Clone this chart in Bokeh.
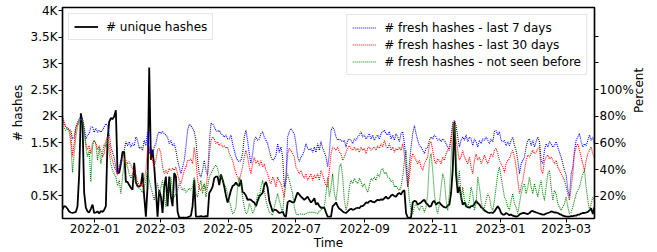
import math
import pandas as pd
from bokeh.plotting import figure
from bokeh.models import (Range1d, LinearAxis, FixedTicker, DatetimeTickFormatter,
                          Legend, LegendItem, ColumnDataSource)
from bokeh.embed import file_html
from bokeh.resources import INLINE

# ---------------- data ----------------
start_date = "2021-12-03"
n_points = 320
step = "36h"

unique_hashes = [
    240, 300, 290, 250, 200, 180, 170, 180, 190, 300,
    900, 2060, 1880, 550, 270, 200, 180, 250, 330, 170,
    180, 200, 160, 210, 190, 230, 300, 1560, 1900, 1970,
    1950, 2000, 2120, 930, 930, 1100, 1330, 1330, 760, 760,
    700, 650, 610, 1120, 750, 680, 670, 700, 930, 480,
    100, 670, 2930, 1180, 1370, 1050, 600, 100, 600, 480,
    170, 670, 860, 300, 860, 480, 300, 930, 860, 200,
    80, 80, 80, 80, 80, 90, 100, 120, 300, 800,
    100, 100, 100, 110, 100, 100, 110, 100, 550, 600,
    670, 830, 860, 860, 700, 900, 800, 670, 500, 370,
    480, 600, 680, 700, 750, 700, 680, 800, 560, 550,
    500, 420, 430, 420, 390, 370, 300, 400, 480, 520,
    550, 700, 760, 650, 400, 300, 200, 230, 230, 200,
    170, 180, 200, 120, 100, 370, 400, 390, 370, 380,
    480, 560, 520, 480, 450, 420, 450, 480, 420, 370,
    400, 450, 330, 360, 300, 270, 270, 270, 180, 100,
    100, 100, 300, 330, 370, 300, 250, 230, 200, 180,
    170, 200, 230, 250, 230, 240, 260, 270, 260, 300,
    300, 330, 370, 360, 390, 400, 380, 370, 400, 420,
    410, 430, 420, 450, 480, 440, 460, 500, 520, 490,
    480, 530, 550, 520, 580, 600, 170, 80, 80, 90,
    370, 400, 390, 330, 350, 370, 400, 420, 360, 330,
    290, 300, 380, 400, 330, 360, 370, 330, 300, 280,
    270, 310, 330, 550, 1000, 1900, 900, 550, 670, 480,
    330, 370, 300, 280, 270, 300, 300, 340, 400, 360,
    330, 280, 260, 220, 200, 180, 170, 180, 170, 200,
    250, 300, 250, 170, 140, 140, 170, 150, 130, 140,
    120, 110, 100, 110, 140, 160, 170, 170, 160, 150,
    170, 200, 210, 190, 180, 170, 160, 150, 140, 140,
    160, 170, 180, 200, 190, 180, 180, 170, 150, 140,
    120, 110, 100, 100, 100, 110, 110, 120, 120, 140,
    140, 160, 170, 170, 180, 190, 220, 260, 150, 280,
]

fresh_7d = [
    80, 75, 72, 71, 70, 69.5, 63, 64.5, 72, 75.5,
    78, 79.5, 78, 72, 63, 66, 67, 72, 72, 68,
    71, 68, 69.5, 68, 69.5, 72, 74.5, 73, 67, 57,
    53, 49, 42, 37, 42, 47, 49.5, 54.5, 61, 58,
    61, 57, 59.5, 58, 64.5, 62, 56, 57, 54.5, 62,
    58, 68.5, 52, 57, 51, 57, 59.5, 66, 68.5, 67,
    68.5, 67, 66, 64.5, 59.5, 62, 58, 59.5, 54.5, 47,
    42, 37, 42, 47, 57, 69.5, 74, 73, 71, 68.5,
    62, 47, 37, 34.5, 39.5, 47, 39.5, 36, 59.5, 74.5,
    74.5, 72, 69.5, 68.5, 69.5, 67, 66, 64.5, 66, 63,
    63, 66, 59.5, 54.5, 49.5, 47, 46, 47, 52, 64.5,
    69.5, 62, 52, 44.5, 52, 62, 64.5, 62, 63, 67,
    68.5, 64.5, 62, 59.5, 54.5, 49.5, 47, 48, 51, 59.5,
    53, 57, 49.5, 27, 34.5, 64.5, 68.5, 71, 68.5, 67,
    59.5, 49.5, 46, 49.5, 51, 54.5, 59.5, 56, 54.5, 56,
    53, 57, 53, 59.5, 54.5, 61, 56, 53, 49.5, 42,
    52, 69.5, 72, 69.5, 64.5, 62, 63, 62, 61, 62,
    57, 62, 63, 62, 59.5, 63, 62, 64.5, 66, 68.5,
    64.5, 66, 63, 64.5, 67, 63, 66, 62, 64.5, 66,
    63, 67, 68.5, 69.5, 67, 66, 68.5, 63, 66, 62,
    67, 64.5, 61, 67, 68.5, 59.5, 47, 27, 44.5, 57,
    67, 73, 67, 62, 58, 57, 54.5, 52, 56, 57,
    62, 64.5, 63, 66, 64.5, 62, 63, 61, 63, 62,
    59.5, 57, 54.5, 64.5, 74.5, 77, 73, 64.5, 57, 62,
    64.5, 62, 66, 61, 64.5, 63, 58, 63, 61, 57,
    62, 59.5, 63, 62, 64.5, 62, 59.5, 63, 61, 68.5,
    69.5, 66, 68.5, 62, 61, 62, 58, 61, 58, 62,
    64.5, 58, 54.5, 47, 37, 44.5, 47, 49.5, 57, 62,
    63, 58, 62, 57, 61, 64.5, 61, 47, 44.5, 54.5,
    59.5, 57, 61, 59.5, 57, 58, 61, 57, 53, 49.5,
    44.5, 39.5, 36, 25, 20, 37, 42, 54.5, 62, 64.5,
    67, 61, 57, 59.5, 58, 62, 66, 62, 64.5, 58,
]

fresh_30d = [
    80, 75, 72, 71, 70, 66, 50, 60, 70, 74,
    77, 78, 77, 70, 60, 55, 58, 52, 60, 62,
    60, 55, 58, 54.5, 49.5, 52, 62, 64.5, 59.5, 51,
    47, 42, 39.5, 36, 42, 44.5, 47, 48, 47, 44.5,
    46, 43.5, 41, 39.5, 36, 31, 28, 29.5, 27, 32,
    39.5, 56, 57, 49.5, 47, 42, 47, 54.5, 56, 52,
    42, 37, 39.5, 37, 41, 39.5, 41, 39.5, 42, 37,
    32, 29.5, 34.5, 39.5, 42, 47, 47, 48, 44.5, 57,
    47, 32, 26, 24.5, 27, 29.5, 24.5, 37, 49.5, 62,
    64.5, 63, 59.5, 61, 58, 59.5, 57, 58, 56, 57,
    52, 49.5, 47, 42, 37, 34.5, 32, 37, 42, 49.5,
    54.5, 49.5, 42, 37, 44.5, 49.5, 44.5, 47, 43, 47,
    42, 44.5, 39.5, 37, 32, 29.5, 34.5, 32, 27, 34.5,
    31, 29.5, 24.5, 19.5, 32, 52, 56, 54.5, 52, 49.5,
    42, 39.5, 37, 39.5, 36, 33.5, 37, 32, 34.5, 37,
    32, 36, 33.5, 37, 32, 39.5, 36, 32, 28, 27,
    39.5, 52, 57, 56, 54.5, 57, 53, 52, 47, 49.5,
    53, 56, 58, 56, 54.5, 57, 54.5, 56, 53, 57,
    54.5, 56, 52, 56, 57, 54.5, 56, 57, 54.5, 58,
    56, 59.5, 57, 62, 58, 56, 59.5, 54.5, 57, 53,
    56, 54.5, 57, 54.5, 59.5, 51, 39.5, 27, 34.5, 47,
    52, 49.5, 47, 44.5, 47, 42, 39.5, 44.5, 47, 49.5,
    59.5, 61, 54.5, 47, 44.5, 48, 47, 44.5, 49.5, 47,
    52, 54.5, 57, 62, 75.5, 74.5, 62, 54.5, 47, 49.5,
    54.5, 49.5, 47, 44.5, 49.5, 42, 37, 47, 52, 47,
    49.5, 44.5, 47, 51, 47, 44.5, 48, 52, 49.5, 54.5,
    56, 52, 47, 44.5, 42, 38, 44.5, 47, 48, 52,
    54.5, 49.5, 42, 32, 22, 27, 32, 39.5, 47, 51,
    49.5, 52, 54.5, 52, 53, 56, 57, 39.5, 37, 47,
    49.5, 51, 48, 49.5, 47, 44.5, 47, 42, 39.5, 37,
    34.5, 32, 27, 22, 17, 27, 37, 52, 57, 59.5,
    54.5, 49.5, 44.5, 39.5, 47, 52, 54.5, 57, 52, 49.5,
]

fresh_new = [
    80, 71, 69.5, 71, 68.5, 59.5, 38, 52, 64.5, 72,
    76, 78, 77, 69.5, 57, 49.5, 54.5, 31, 57, 62,
    59.5, 47, 57, 44.5, 52, 59.5, 57, 62, 52, 44.5,
    39.5, 37, 34.5, 28, 32, 22, 34.5, 47, 44.5, 42,
    37, 33.5, 37, 34.5, 29.5, 27, 26, 24.5, 23, 27,
    32, 39.5, 32, 27, 22, 17, 24.5, 29.5, 22, 27,
    32, 22, 12, 22, 27, 34.5, 24.5, 19.5, 22, 24.5,
    29.5, 27, 24.5, 26, 23, 24.5, 26, 24.5, 27, 34.5,
    22, 19.5, 27, 32, 22, 29.5, 19.5, 27, 34.5, 37,
    39.5, 42, 43.5, 41, 34.5, 36, 32, 29.5, 27, 22,
    17, 12, 7, 8, 12, 27, 34.5, 29.5, 19.5, 12,
    7, 8, 14.5, 12, 7, 9.5, 14.5, 22, 19.5, 27,
    32, 24.5, 17, 12, 8, 7, 6, 12, 17, 22,
    17, 12, 8, 22, 32, 37, 32, 27, 22, 12,
    7, 6, 6.5, 7, 6.5, 6.5, 7, 7.5, 8, 8,
    8, 8, 7.5, 7, 9, 9.5, 11, 12, 22, 34.5,
    19.5, 27, 37, 22, 17, 27, 42, 44.5, 34.5, 17,
    9.5, 14.5, 27, 32, 29.5, 33.5, 31, 29.5, 33.5, 31,
    27, 29.5, 26, 23, 28, 33.5, 32, 34.5, 32, 37,
    34.5, 39.5, 41, 37, 38, 34.5, 33.5, 31, 32, 27,
    28, 26, 24.5, 27, 34.5, 47, 54.5, 32, 17, 9.5,
    7, 12, 14.5, 12, 9.5, 13, 12, 8, 12, 22,
    47, 52, 39.5, 22, 12, 7, 14.5, 27, 37, 32,
    17, 9.5, 22, 47, 74.5, 72, 49.5, 27, 39.5, 17,
    27, 17, 14.5, 12, 17, 27, 22, 9.5, 14.5, 34.5,
    27, 17, 9.5, 12, 17, 22, 19.5, 12, 9.5, 17,
    27, 37, 42, 34.5, 27, 19.5, 17, 12, 9.5, 17,
    22, 14.5, 12, 7, 14.5, 22, 27, 29.5, 22, 27,
    34.5, 27, 22, 29.5, 24.5, 19.5, 27, 32, 22, 17,
    27, 37, 39.5, 27, 17, 24.5, 22, 14.5, 12, 9.5,
    12, 14.5, 19.5, 12, 7, 8, 12, 17, 22, 24.5,
    27, 32, 37, 39.5, 27, 17, 9.5, 14.5, 19.5, 17,
]

x_tick_labels = ["2022-01", "2022-03", "2022-05", "2022-07",
                 "2022-09", "2022-11", "2023-01", "2023-03"]
hash_ticks = [500, 1000, 1500, 2000, 2500, 3000, 3500, 4000]
hash_tick_labels = ["0.5K", "1K", "1.5K", "2K", "2.5K", "3K", "3.5K", "4K"]
pct_ticks = [20, 40, 60, 80, 100, 120, 140]
pct_tick_labels = ["20%", "40%", "60%", "80%", "100%", "", ""]

x_title = "Time"
y_title = "# hashes"
y2_title = "Percent"
legend_left = ["# unique hashes"]
legend_right = ["# fresh hashes - last 7 days",
                "# fresh hashes - last 30 days",
                "# fresh hashes - not seen before"]

# ---------------- figure ----------------
dates = pd.date_range(start_date, periods=n_points, freq=step)
src = ColumnDataSource(dict(t=dates, h=unique_hashes, b=fresh_7d,
                            r=fresh_30d, g=fresh_new))

FONT = "DejaVu Sans"
FS = "12px"

p = figure(x_axis_type="datetime", width=657, height=252,
           output_backend="svg", toolbar_location=None,
           x_range=Range1d(dates[0], dates[-1]),
           y_range=Range1d(66, 4066),
           min_border_left=62, min_border_right=63,
           min_border_top=7, min_border_bottom=33)
p.extra_y_ranges = {"pct": Range1d(3.4, 161.6)}
p.xgrid.visible = False
p.ygrid.visible = False
p.outline_line_color = "black"
p.outline_line_width = 1.5
p.background_fill_color = "white"
p.border_fill_color = "white"

# x axis
tick_ms = [pd.Timestamp(s + "-01").timestamp() * 1000 for s in x_tick_labels]
p.xaxis.ticker = FixedTicker(ticks=tick_ms)
fmt = "%Y-%m"
p.xaxis.formatter = DatetimeTickFormatter(
    microseconds=fmt, milliseconds=fmt, seconds=fmt, minsec=fmt, minutes=fmt,
    hourmin=fmt, hours=fmt, days=fmt, months=fmt, years=fmt)
p.xaxis.axis_label = x_title

# left y axis
p.yaxis.ticker = FixedTicker(ticks=hash_ticks)
p.yaxis.major_label_overrides = dict(zip(hash_ticks, hash_tick_labels))
p.yaxis.axis_label = y_title

# right y axis
ax2 = LinearAxis(y_range_name="pct", ticker=FixedTicker(ticks=pct_ticks),
                 axis_label=y2_title)
ax2.major_label_overrides = dict(zip(pct_ticks, pct_tick_labels))
p.add_layout(ax2, "right")
try:
    ax2.axis_label_orientation = math.pi / 2
except Exception:
    pass

for ax in list(p.xaxis) + list(p.yaxis) + [ax2]:
    ax.axis_line_color = "black"
    ax.axis_line_width = 1.2
    ax.major_tick_line_color = "black"
    ax.major_tick_out = 4
    ax.major_tick_in = 0
    ax.minor_tick_line_color = None
    ax.major_label_text_font = FONT
    ax.major_label_text_font_size = FS
    ax.major_label_text_color = "black"
    ax.major_label_standoff = 1
    ax.axis_label_text_font = FONT
    ax.axis_label_text_font_size = FS
    ax.axis_label_text_font_style = "normal"
    ax.axis_label_text_color = "black"
    ax.axis_label_standoff = 3
p.xaxis.axis_label_standoff = 0
ax2.axis_label_standoff = 2

# lines
r_h = p.line("t", "h", source=src, line_color="black", line_width=1.8)
r_b = p.line("t", "b", source=src, y_range_name="pct", line_color="blue",
             line_width=1.1, line_dash="1 1")
r_r = p.line("t", "r", source=src, y_range_name="pct", line_color="red",
             line_width=1.1, line_dash="1 1")
r_g = p.line("t", "g", source=src, y_range_name="pct", line_color="green",
             line_width=1.1, line_dash="1 1")


def style_legend(lg):
    lg.label_text_font = FONT
    lg.label_text_font_size = FS
    lg.label_text_color = "black"
    lg.glyph_width = 24
    lg.glyph_height = 15
    lg.label_height = 15
    lg.label_standoff = 8
    lg.padding = 5
    lg.spacing = 2
    lg.border_line_color = "#cccccc"
    lg.border_line_width = 1
    lg.background_fill_color = "white"
    lg.background_fill_alpha = 0.8


lg1 = Legend(items=[LegendItem(label=legend_left[0], renderers=[r_h])],
             location="top_left", margin=6)
style_legend(lg1)
lg2 = Legend(items=[LegendItem(label=legend_right[0], renderers=[r_b]),
                    LegendItem(label=legend_right[1], renderers=[r_r]),
                    LegendItem(label=legend_right[2], renderers=[r_g])],
             location="top_right", margin=7)
style_legend(lg2)
p.add_layout(lg1)
p.add_layout(lg2)

open("out.html", "w").write(file_html(p, INLINE))
